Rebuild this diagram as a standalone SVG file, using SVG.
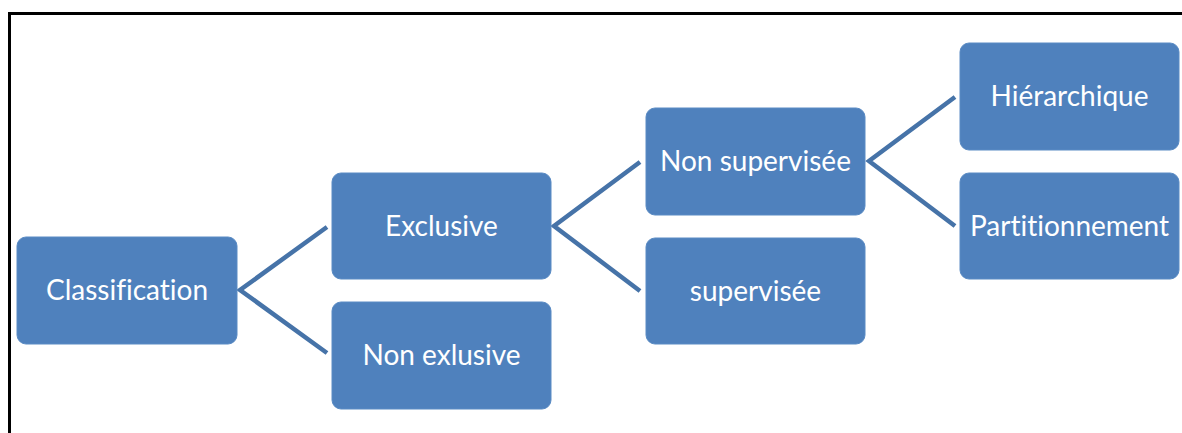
<svg xmlns="http://www.w3.org/2000/svg" width="1182" height="433" viewBox="0 0 1182 433">
  <style>
    .box { fill: #4f81bd; stroke: #5a8bc4; stroke-width: 1; }
    .label { fill: #ffffff; font-family: Lato, "Liberation Sans", sans-serif; font-size: 28px; text-anchor: middle; font-variant-ligatures: none; }
    .link { fill: none; stroke: #4673a8; stroke-width: 4.5; stroke-linejoin: miter; }
    .frame { fill: none; stroke: #000000; stroke-width: 3; }
  </style>
  <rect width="1182" height="433" fill="#ffffff"/>
  <!-- outer frame: top and left edges -->
  <path class="frame" d="M9.5,433 V13.5 H1182"/>

  <g id="connectors">
    <path class="link" d="M327,227 L240,290 L327,353"/>
    <path class="link" d="M640,162 L554,226 L640,291"/>
    <path class="link" d="M955,97 L869,161 L955,226"/>
  </g>

  <g id="classification">
    <rect class="box" x="17" y="237" width="220" height="107" rx="9"/>
    <text class="label" x="127" y="300">Classification</text>
  </g>
  <g id="exclusive">
    <rect class="box" x="332" y="173" width="219" height="106" rx="9"/>
    <text class="label" x="441.5" y="236">Exclusive</text>
  </g>
  <g id="non-exlusive">
    <rect class="box" x="332" y="302" width="219" height="107" rx="9"/>
    <text class="label" x="441.5" y="365">Non exlusive</text>
  </g>
  <g id="non-supervisee">
    <rect class="box" x="646" y="108" width="219" height="107" rx="9"/>
    <text class="label" x="755.5" y="171">Non supervisée</text>
  </g>
  <g id="supervisee">
    <rect class="box" x="646" y="238" width="219" height="106" rx="9"/>
    <text class="label" x="755.5" y="301">supervisée</text>
  </g>
  <g id="hierarchique">
    <rect class="box" x="960" y="43" width="219" height="107" rx="9"/>
    <text class="label" x="1069.5" y="106">Hiérarchique</text>
  </g>
  <g id="partitionnement">
    <rect class="box" x="960" y="173" width="219" height="106" rx="9"/>
    <text class="label" x="1069.5" y="236">Partitionnement</text>
  </g>
</svg>
